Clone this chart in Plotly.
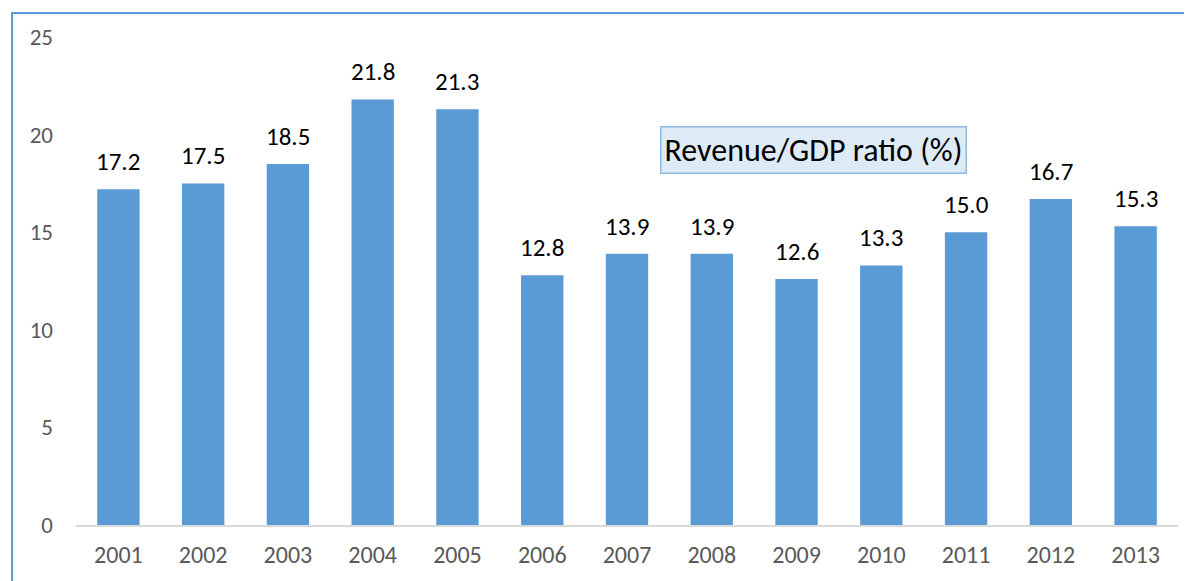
import plotly.graph_objects as go

years = ["2001", "2002", "2003", "2004", "2005", "2006", "2007",
         "2008", "2009", "2010", "2011", "2012", "2013"]
ratio = [17.2, 17.5, 18.5, 21.8, 21.3, 12.8, 13.9, 13.9, 12.6, 13.3, 15.0, 16.7, 15.3]
y_ticks = [0, 5, 10, 15, 20, 25]

font_family = "Carlito, Calibri, Lato, sans-serif"

fig = go.Figure()
fig.add_trace(go.Bar(
    x=years, y=ratio,
    marker=dict(color="#5B9BD5", line=dict(width=0)),
    width=0.5,
    cliponaxis=False,
))

# value labels sit a bit above each bar
for i, v in enumerate(ratio):
    fig.add_annotation(
        x=i, y=v, xref="x", yref="y", text=f"{v:.1f}",
        showarrow=False, yanchor="bottom", yshift=10,
        font=dict(size=25, color="#000000", family=font_family),
    )

fig.add_annotation(
    x=8.2, y=19.2, xref="x", yref="y",
    text="Revenue/GDP ratio (%)",
    showarrow=False,
    font=dict(size=32, color="#000000", family=font_family),
    bgcolor="#DEEBF7", bordercolor="#8FB8E0", borderwidth=1.5, borderpad=3,
)

# outer frame (only left and top edges are visible in the crop)
fig.add_shape(type="rect", xref="paper", yref="paper",
              x0=-0.058, x1=1.2, y0=-0.3, y1=1.049,
              line=dict(color="#5B9BD5", width=2), layer="below")

fig.update_layout(
    width=1184, height=573,
    margin=dict(l=68, r=14, t=29, b=54),
    plot_bgcolor="white", paper_bgcolor="white",
    showlegend=False,
    bargap=0.5,
    font=dict(family=font_family),
    xaxis=dict(
        type="category",
        showgrid=False, showline=True, linecolor="#D9D9D9", linewidth=1.5,
        ticks="", tickfont=dict(size=24, color="#595959"),
        range=[-0.5, 12.5], ticklabelstandoff=7,
    ),
    yaxis=dict(
        range=[0, 25], tickvals=y_ticks, showgrid=False, zeroline=False,
        showline=False, ticks="", tickfont=dict(size=23, color="#595959"),
        ticklabelstandoff=22,
    ),
)

fig.write_html("out.html")
